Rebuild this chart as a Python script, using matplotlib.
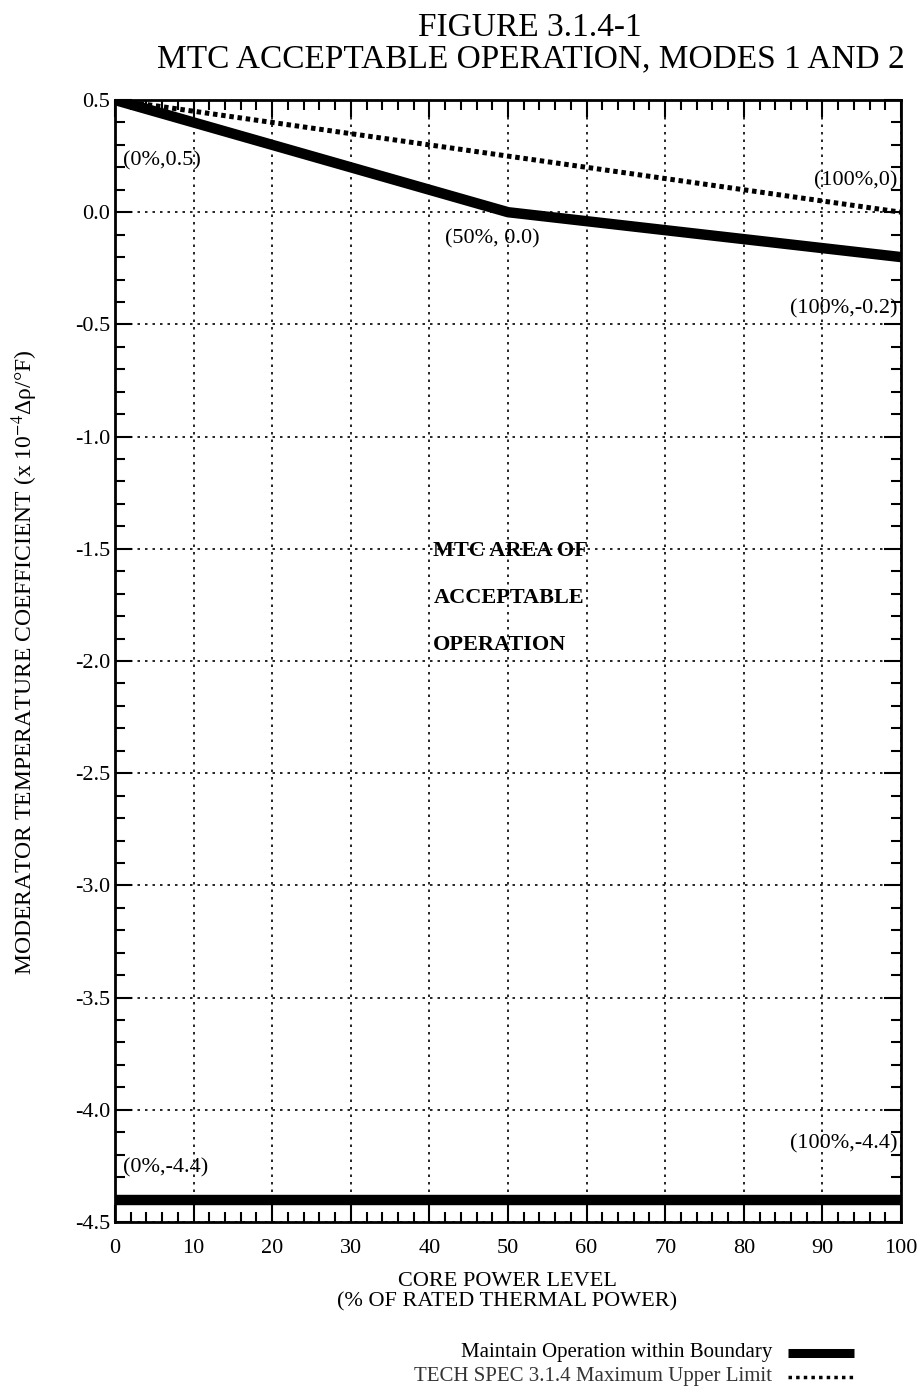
import numpy as np
import matplotlib
matplotlib.use("Agg")
import matplotlib.pyplot as plt
from matplotlib.ticker import MultipleLocator

plt.rcParams['font.family'] = ['Liberation Serif', 'DejaVu Serif']
plt.rcParams['mathtext.fontset'] = 'stix'

# limit curves
power_bound = [0, 50, 100]
mtc_bound = [0.5, 0.0, -0.2]
power_low = [0, 100]
mtc_low = [-4.4, -4.4]
power_upper = [0, 100]
mtc_upper = [0.5, 0.0]

# point labels: text, x, y, alignment
pt_labels = ["(0%,0.5)", "(100%,0)", "(50%, 0.0)", "(100%,-0.2)", "(100%,-4.4)", "(0%,-4.4)"]
pt_x = [1, 99.6, 42, 99.6, 99.6, 1]
pt_y = [0.23, 0.14, -0.12, -0.43, -4.15, -4.26]
pt_ha = ["left", "right", "left", "right", "right", "left"]

W, H = 922, 1392
fig = plt.figure(figsize=(W / 100, H / 100), dpi=100)
ax = fig.add_axes([115 / W, 1 - 1222 / H, 786 / W, 1122 / H])

ax.plot(power_bound, mtc_bound, color='black', lw=7.5, solid_capstyle='butt')
ax.plot(power_low, mtc_low, color='black', lw=7.5, solid_capstyle='butt')
ax.plot(power_upper, mtc_upper, color='black', lw=3.6, linestyle=(0, (0.9, 0.75)),
        dash_capstyle='butt')

ax.set_xlim(0, 100)
ax.set_ylim(-4.5, 0.5)
ax.xaxis.set_major_locator(MultipleLocator(10))
ax.xaxis.set_minor_locator(MultipleLocator(2))
ax.yaxis.set_major_locator(MultipleLocator(0.5))
ax.yaxis.set_minor_locator(MultipleLocator(0.1))
ax.yaxis.set_major_formatter(plt.FuncFormatter(lambda v, p: f"{v:.1f}"))
ax.tick_params(which='both', direction='in', top=True, right=True, width=1.5, labelsize=16)
ax.tick_params(which='major', length=12)
ax.tick_params(which='minor', length=7)
ax.tick_params(axis='x', pad=12)
for s in ax.spines.values():
    s.set_linewidth(2)
ax.grid(True, which='major', color='black', linestyle=(0, (1.5, 3)), lw=1.2)

for t, x, y, ha in zip(pt_labels, pt_x, pt_y, pt_ha):
    ax.text(x, y, t, ha=ha, va='center', fontsize=16)

area_lines = ["MTC AREA OF", "ACCEPTABLE", "OPERATION"]
for i, t in enumerate(area_lines):
    ax.text(40.5, -1.51 - 0.21 * i, t, ha='left', va='center', fontsize=16, fontweight='bold')

fig.text(25 / W, 1 - 662 / H, "MODERATOR TEMPERATURE COEFFICIENT (x 10$^{-4}$Δρ/°F)",
         rotation=90, ha='center', va='center', fontsize=17)

fig.text(507 / W, 1 - 1282 / H, "CORE POWER LEVEL", ha='center', va='center', fontsize=16)
fig.text(507 / W, 1 - 1302 / H, "(% OF RATED THERMAL POWER)", ha='center', va='center', fontsize=16)

fig.text(530 / W, 1 - 36 / H, "FIGURE 3.1.4-1", ha='center', va='baseline', fontsize=24)
fig.text(531 / W, 1 - 67 / H, "MTC ACCEPTABLE OPERATION, MODES 1 AND 2",
         ha='center', va='baseline', fontsize=24)

# legend
leg_text = ["Maintain Operation within Boundary", "TECH SPEC 3.1.4 Maximum Upper Limit"]
leg_y = [1353, 1377]
fig.text(772 / W, 1 - leg_y[0] / H, leg_text[0], ha='right', va='center', fontsize=15)
fig.text(772 / W, 1 - leg_y[1] / H, leg_text[1], ha='right', va='center', fontsize=15, color='#333333')
fig.add_artist(plt.Line2D([788 / W, 854 / W], [1 - leg_y[0] / H] * 2, color='black', lw=6.5,
                          solid_capstyle='butt', transform=fig.transFigure))
fig.add_artist(plt.Line2D([788 / W, 854 / W], [1 - leg_y[1] / H] * 2, color='black', lw=2.5,
                          linestyle=(0, (1, 1.2)), dash_capstyle='butt', transform=fig.transFigure))

fig.savefig("out.png", dpi=100)
